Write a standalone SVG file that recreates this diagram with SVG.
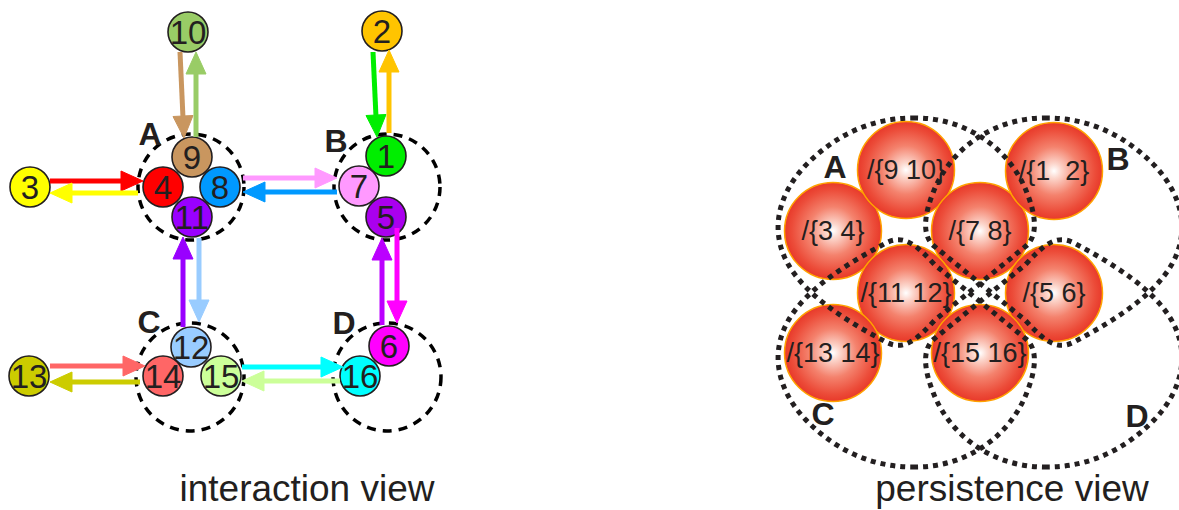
<svg xmlns="http://www.w3.org/2000/svg" width="1179" height="510" viewBox="0 0 1179 510">
<defs>
<radialGradient id="sph" cx="0.5" cy="0.5" r="0.5">
<stop offset="0" stop-color="#ffffff"/>
<stop offset="0.15" stop-color="#fcd6cc"/>
<stop offset="0.5" stop-color="#f4826d"/>
<stop offset="0.85" stop-color="#ec4c39"/>
<stop offset="1" stop-color="#e8392a"/>
</radialGradient>
<path id="loopA" d="M913,118 C965,117 1010,148 1027,193 C1035,213 1039,235 1026,246 L935,320 C918,338 905,352 886,342 C848,322 806,296 788,264 C770,232 777,196 805,166 C834,136 870,118 913,118 Z"/>
</defs>
<style>
.nd circle{stroke:#231f20;stroke-width:1.6}
.nd text{font-family:"Liberation Sans",Arial,sans-serif;font-size:33px;fill:#231f20;text-anchor:middle}
.grp{fill:none;stroke:#000;stroke-width:3.5;stroke-dasharray:9 7}
.lbl{font-family:"Liberation Sans",Arial,sans-serif;font-weight:bold;font-size:32px;fill:#231f20;text-anchor:middle}
.cap{font-family:"Liberation Sans",Arial,sans-serif;font-size:37px;fill:#231f20;text-anchor:middle}
.cn line{stroke-width:5}
.sp circle{fill:url(#sph);stroke:#ffa200;stroke-width:1.5}
.sp text{font-family:"Liberation Sans",Arial,sans-serif;font-size:27px;fill:#231f20;text-anchor:middle}
.loop{fill:none;stroke:#231f20;stroke-width:5;stroke-dasharray:5 5}
</style>
<rect width="1179" height="510" fill="#fff"/>
<!-- interaction view groups -->
<g id="groupA"><circle class="grp" cx="191" cy="187" r="53"/><text class="lbl" x="150" y="145">A</text></g>
<g id="groupB"><circle class="grp" cx="387" cy="187" r="53"/><text class="lbl" x="336" y="152">B</text></g>
<g id="groupC"><circle class="grp" cx="190" cy="377" r="54"/><text class="lbl" x="149" y="333">C</text></g>
<g id="groupD"><circle class="grp" cx="387" cy="377" r="54"/><text class="lbl" x="344" y="334">D</text></g>
<!-- nodes -->
<g id="n1" class="nd"><circle cx="386" cy="156" r="20" fill="#00ee00"/><text x="386" y="168">1</text></g>
<g id="n2" class="nd"><circle cx="382" cy="31" r="20" fill="#ffc400"/><text x="382" y="43">2</text></g>
<g id="n3" class="nd"><circle cx="30" cy="187" r="20" fill="#ffff00"/><text x="30" y="199">3</text></g>
<g id="n4" class="nd"><circle cx="163" cy="187" r="20" fill="#ff0000"/><text x="163" y="199">4</text></g>
<g id="n5" class="nd"><circle cx="386" cy="217" r="20" fill="#aa00ee"/><text x="386" y="229">5</text></g>
<g id="n6" class="nd"><circle cx="389" cy="346" r="20" fill="#ff00ff"/><text x="389" y="358">6</text></g>
<g id="n7" class="nd"><circle cx="359" cy="186" r="20" fill="#ff99ff"/><text x="359" y="198">7</text></g>
<g id="n8" class="nd"><circle cx="220" cy="187" r="20" fill="#0099ff"/><text x="220" y="199">8</text></g>
<g id="n9" class="nd"><circle cx="192" cy="157" r="20" fill="#c9965f"/><text x="192" y="169">9</text></g>
<g id="n10" class="nd"><circle cx="188" cy="32" r="20" fill="#99cc66"/><text x="188" y="44">10</text></g>
<g id="n11" class="nd"><circle cx="192" cy="217" r="20" fill="#9900ff"/><text x="192" y="229">11</text></g>
<g id="n12" class="nd"><circle cx="191" cy="347" r="20" fill="#99ccff"/><text x="191" y="359">12</text></g>
<g id="n13" class="nd"><circle cx="29" cy="376" r="20" fill="#cccc00"/><text x="29" y="388">13</text></g>
<g id="n14" class="nd"><circle cx="163" cy="376" r="20" fill="#ff6666"/><text x="163" y="388">14</text></g>
<g id="n15" class="nd"><circle cx="221" cy="376" r="20" fill="#ccff99"/><text x="221" y="388">15</text></g>
<g id="n16" class="nd"><circle cx="360" cy="376" r="20" fill="#00ffff"/><text x="360" y="388">16</text></g>
<!-- connectors -->
<g id="connectors" class="cn">
<g stroke="#c9965f" fill="#c9965f"><line x1="180" y1="52" x2="183" y2="118"/><polygon points="184,138 173,116.5 193,115.5"/></g>
<g stroke="#99cc66" fill="#99cc66"><line x1="196" y1="137" x2="196" y2="72"/><polygon points="196,52 186,74 206,74"/></g>
<g stroke="#ff0000" fill="#ff0000"><line x1="50" y1="181" x2="123" y2="181"/><polygon points="143,181 121,171 121,191"/></g>
<g stroke="#ffff00" fill="#ffff00"><line x1="138" y1="193" x2="70" y2="193"/><polygon points="50,193 72,183 72,203"/></g>
<g stroke="#00ee00" fill="#00ee00"><line x1="373" y1="52" x2="376" y2="117"/><polygon points="377,137 366,115.5 386,114.5"/></g>
<g stroke="#ffc400" fill="#ffc400"><line x1="389" y1="133" x2="389" y2="70"/><polygon points="389,50 379,72 399,72"/></g>
<g stroke="#ff99ff" fill="#ff99ff"><line x1="243" y1="178" x2="317" y2="178"/><polygon points="337,178 315,168 315,188"/></g>
<g stroke="#0099ff" fill="#0099ff"><line x1="337" y1="192" x2="263" y2="192"/><polygon points="243,192 265,182 265,202"/></g>
<g stroke="#9900ff" fill="#9900ff"><line x1="183" y1="327" x2="183" y2="257"/><polygon points="183,237 173,259 193,259"/></g>
<g stroke="#99ccff" fill="#99ccff"><line x1="199" y1="238" x2="199" y2="302"/><polygon points="199,322 189,300 209,300"/></g>
<g stroke="#bb00ff" fill="#bb00ff"><line x1="382" y1="325" x2="382" y2="258"/><polygon points="382,238 372,260 392,260"/></g>
<g stroke="#ff00ff" fill="#ff00ff"><line x1="397" y1="228" x2="397" y2="303"/><polygon points="397,323 387,301 407,301"/></g>
<g stroke="#00ffff" fill="#00ffff"><line x1="242" y1="367" x2="323" y2="367"/><polygon points="343,367 321,357 321,377"/></g>
<g stroke="#ccff99" fill="#ccff99"><line x1="340" y1="381" x2="262" y2="381"/><polygon points="242,381 264,371 264,391"/></g>
<g stroke="#ff6666" fill="#ff6666"><line x1="50" y1="366" x2="125" y2="366"/><polygon points="145,366 123,356 123,376"/></g>
<g stroke="#cccc00" fill="#cccc00"><line x1="140" y1="382" x2="70" y2="382"/><polygon points="50,382 72,372 72,392"/></g>
</g>
<text class="cap" x="307" y="501">interaction view</text>
<!-- persistence view -->
<g id="s34" class="sp"><circle cx="833" cy="231" r="48.5"/><text x="833" y="240">/{3 4}</text></g>
<g id="s910" class="sp"><circle cx="906" cy="170" r="48.5"/><text x="906" y="179">/{9 10}</text></g>
<g id="s78" class="sp"><circle cx="980" cy="231" r="48.5"/><text x="980" y="240">/{7 8}</text></g>
<g id="s12" class="sp"><circle cx="1054" cy="171" r="48.5"/><text x="1054" y="180" xml:space="preserve">/{1  2}</text></g>
<g id="s1112" class="sp"><circle cx="906" cy="293" r="48.5"/><text x="906" y="302">/{11 12}</text></g>
<g id="s56" class="sp"><circle cx="1054" cy="293" r="48.5"/><text x="1054" y="302">/{5 6}</text></g>
<g id="s1314" class="sp"><circle cx="833" cy="353" r="48.5"/><text x="833" y="362">/{13 14}</text></g>
<g id="s1516" class="sp"><circle cx="980" cy="353" r="48.5"/><text x="980" y="362">/{15 16}</text></g>
<g id="loops">
<use href="#loopA" class="loop"/>
<use href="#loopA" class="loop" transform="translate(1960,0) scale(-1,1)"/>
<use href="#loopA" class="loop" transform="translate(0,585) scale(1,-1)"/>
<use href="#loopA" class="loop" transform="translate(1960,585) scale(-1,-1)"/>
</g>
<text class="lbl" x="835" y="178">A</text>
<text class="lbl" x="1118" y="170">B</text>
<text class="lbl" x="823" y="425">C</text>
<text class="lbl" x="1137" y="427">D</text>
<text class="cap" x="1012" y="501">persistence view</text>
</svg>
